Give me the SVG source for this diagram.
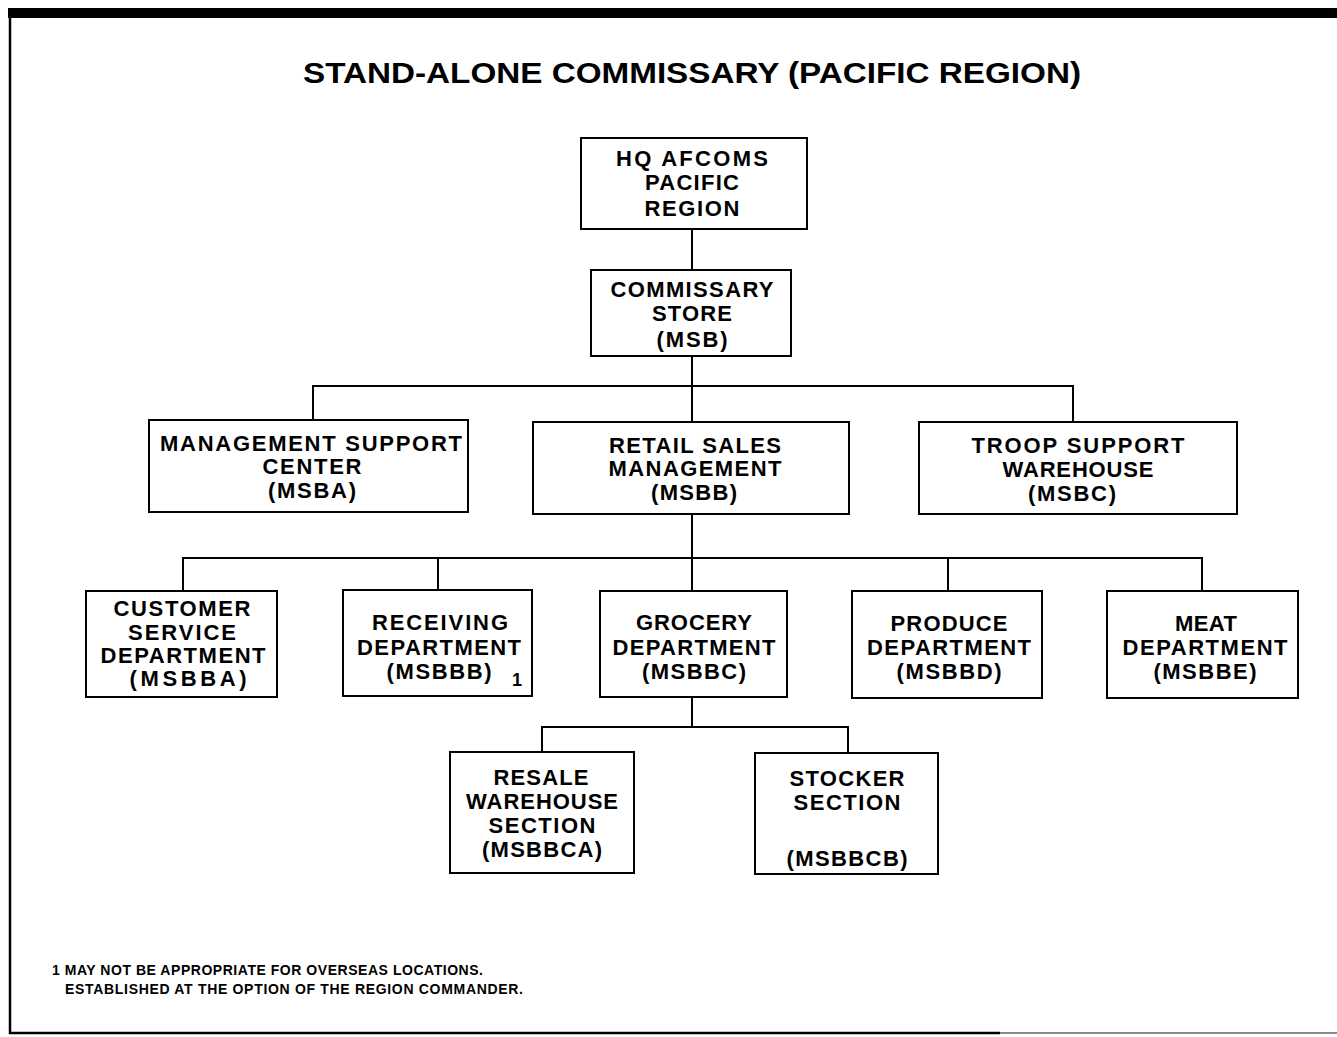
<svg xmlns="http://www.w3.org/2000/svg" width="1337" height="1037" viewBox="0 0 1337 1037">
<style>
.box{fill:#fff;stroke:#000;stroke-width:2}
.t{font-family:"Liberation Sans",Arial,sans-serif;font-weight:bold;font-size:22px;fill:#000;text-anchor:middle}
.c{fill:none;stroke:#000;stroke-width:2}
.fn{font-family:"Liberation Sans",Arial,sans-serif;font-weight:bold;font-size:14px;fill:#000}
</style>
<rect width="1337" height="1037" fill="#fff"/>
<g id="frame">
<rect x="8" y="8" width="1329" height="10" fill="#000"/>
<line x1="10" y1="8" x2="10" y2="1034" stroke="#000" stroke-width="2.5"/>
<line x1="9" y1="1033" x2="1000" y2="1033" stroke="#000" stroke-width="2.5"/>
<line x1="1000" y1="1033" x2="1337" y2="1033" stroke="#888" stroke-width="2"/>
</g>
<text x="692" y="83" font-family="Liberation Sans, Arial, sans-serif" font-weight="bold" font-size="29" text-anchor="middle" textLength="778" lengthAdjust="spacingAndGlyphs">STAND-ALONE COMMISSARY (PACIFIC REGION)</text>
<g id="connectors">
<path class="c" d="M692 229V270"/>
<path class="c" d="M692 356V422M313 420V386H1073V422"/>
<path class="c" d="M692 514V591M183 591V558H1202V591M438 558V590M948 558V591"/>
<path class="c" d="M692 697V727M542 752V727H848V753"/>
</g>
<g id="hq">
<rect class="box" x="581" y="138" width="226" height="91"/>
<text class="t" x="692" y="166" textLength="152">HQ AFCOMS</text>
<text class="t" x="692" y="190" textLength="94">PACIFIC</text>
<text class="t" x="692" y="216" textLength="95">REGION</text>
</g>
<g id="store">
<rect class="box" x="591" y="270" width="200" height="86"/>
<text class="t" x="692" y="297" textLength="163">COMMISSARY</text>
<text class="t" x="692" y="321" textLength="80">STORE</text>
<text class="t" x="692" y="347" textLength="71">(MSB)</text>
</g>
<g id="msba">
<rect class="box" x="149" y="420" width="319" height="92"/>
<text class="t" x="311" y="451" textLength="302">MANAGEMENT SUPPORT</text>
<text class="t" x="312" y="474" textLength="99">CENTER</text>
<text class="t" x="312" y="498" textLength="88">(MSBA)</text>
</g>
<g id="msbb">
<rect class="box" x="533" y="422" width="316" height="92"/>
<text class="t" x="695" y="453" textLength="172">RETAIL SALES</text>
<text class="t" x="695" y="476" textLength="173">MANAGEMENT</text>
<text class="t" x="694" y="500" textLength="86">(MSBB)</text>
</g>
<g id="msbc">
<rect class="box" x="919" y="422" width="318" height="92"/>
<text class="t" x="1078" y="453" textLength="213">TROOP SUPPORT</text>
<text class="t" x="1078" y="477" textLength="151">WAREHOUSE</text>
<text class="t" x="1072" y="501" textLength="88">(MSBC)</text>
</g>
<g id="msbba">
<rect class="box" x="86" y="591" width="191" height="106"/>
<text class="t" x="182" y="616" textLength="137">CUSTOMER</text>
<text class="t" x="182" y="640" textLength="108">SERVICE</text>
<text class="t" x="183" y="663" textLength="165">DEPARTMENT</text>
<text class="t" x="188" y="686" textLength="117">(MSBBA)</text>
</g>
<g id="msbbb">
<rect class="box" x="343" y="590" width="189" height="106"/>
<text class="t" x="440" y="630" textLength="136">RECEIVING</text>
<text class="t" x="439" y="655" textLength="164">DEPARTMENT</text>
<text class="t" x="439" y="679" textLength="105">(MSBBB)</text>
<text class="fn" x="517" y="686" style="font-size:18px" text-anchor="middle">1</text>
</g>
<g id="msbbc">
<rect class="box" x="600" y="591" width="187" height="106"/>
<text class="t" x="694" y="630" textLength="116">GROCERY</text>
<text class="t" x="694" y="655" textLength="163">DEPARTMENT</text>
<text class="t" x="694" y="679" textLength="104">(MSBBC)</text>
</g>
<g id="msbbd">
<rect class="box" x="852" y="591" width="190" height="107"/>
<text class="t" x="949" y="631" textLength="117">PRODUCE</text>
<text class="t" x="949" y="655" textLength="164">DEPARTMENT</text>
<text class="t" x="949" y="679" textLength="105">(MSBBD)</text>
</g>
<g id="msbbe">
<rect class="box" x="1107" y="591" width="191" height="107"/>
<text class="t" x="1206" y="631" textLength="62">MEAT</text>
<text class="t" x="1205" y="655" textLength="165">DEPARTMENT</text>
<text class="t" x="1205" y="679" textLength="103">(MSBBE)</text>
</g>
<g id="msbbca">
<rect class="box" x="450" y="752" width="184" height="121"/>
<text class="t" x="541" y="785" textLength="95">RESALE</text>
<text class="t" x="542" y="809" textLength="152">WAREHOUSE</text>
<text class="t" x="542" y="833" textLength="107">SECTION</text>
<text class="t" x="542" y="857" textLength="120">(MSBBCA)</text>
</g>
<g id="msbbcb">
<rect class="box" x="755" y="753" width="183" height="121"/>
<text class="t" x="847" y="786" textLength="115">STOCKER</text>
<text class="t" x="847" y="810" textLength="107">SECTION</text>
<text class="t" x="847" y="866" textLength="121">(MSBBCB)</text>
</g>
<g id="footnote">
<text class="fn" x="52" y="975" textLength="431">1 MAY NOT BE APPROPRIATE FOR OVERSEAS LOCATIONS.</text>
<text class="fn" x="65" y="994" textLength="458">ESTABLISHED AT THE OPTION OF THE REGION COMMANDER.</text>
</g>
</svg>
